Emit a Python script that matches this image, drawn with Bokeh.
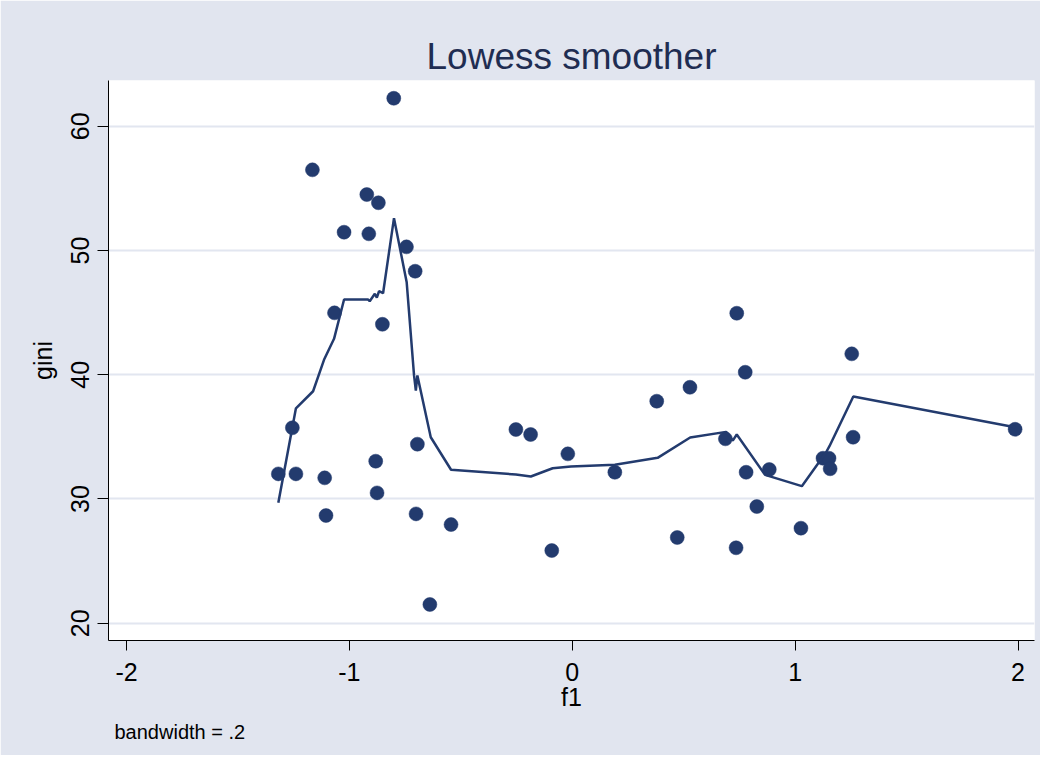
from bokeh.plotting import figure
from bokeh.models import FixedTicker, Title, ColumnDataSource
from bokeh.embed import file_html
from bokeh.resources import INLINE

# ---- data ----
f1 = [-0.801, -1.166, -0.922, -0.870, -1.024, -0.913, -0.744, -0.705, -1.067, -0.852,
      -1.256, -1.319, -1.240, -1.111, -0.882, -0.876, -1.105, -0.695, -0.701, -0.544,
      -0.639, -0.253, -0.187, -0.092, -0.020, 0.191, 0.379, 0.528, 0.471, 0.738,
      0.687, 0.776, 0.780, 0.828, 0.735, 0.884, 1.026, 1.125, 1.152, 1.157,
      1.254, 1.260, 1.987]
gini = [62.25, 56.49, 54.50, 53.84, 51.47, 51.34, 50.29, 48.33, 44.98, 44.06,
        35.73, 32.02, 32.02, 31.70, 33.04, 30.49, 28.67, 34.41, 28.80, 27.94,
        21.51, 35.59, 35.19, 25.85, 33.63, 32.15, 37.87, 38.99, 26.90, 44.95,
        34.84, 40.20, 32.15, 29.39, 26.07, 32.37, 27.65, 33.28, 33.28, 32.43,
        41.68, 34.97, 35.61]

lowess_f1 = [-1.319, -1.240, -1.163, -1.114, -1.069, -1.024, -0.916, -0.909, -0.886, -0.877,
             -0.867, -0.849, -0.800, -0.743, -0.710, -0.702, -0.695, -0.635, -0.544, -0.253,
             -0.186, -0.088, -0.006, 0.191, 0.383, 0.529, 0.690, 0.720, 0.738, 0.865,
             1.030, 1.139, 1.154, 1.261, 1.987]
lowess_gini = [29.69, 37.30, 38.67, 41.20, 42.89, 46.05, 46.05, 45.92, 46.51, 46.21,
               46.72, 46.56, 52.60, 47.44, 39.94, 38.73, 39.94, 34.97, 32.35, 31.97,
               31.81, 32.47, 32.61, 32.75, 33.31, 34.95, 35.40, 34.70, 35.19, 31.94,
               31.03, 33.76, 34.25, 38.25, 35.77]

x_ticks = [-2, -1, 0, 1, 2]
y_ticks = [20, 30, 40, 50, 60]

title_text = "Lowess smoother"
note_text = "bandwidth = .2"
x_label = "f1"
y_label = "gini"

# ---- styles ----
FONT = "Liberation Sans"
NAVY = "#233b6e"
BG = "#e1e5ef"
GRID = "#e2e6f0"

p = figure(width=1040, height=755,
           x_range=(-2.081, 2.074), y_range=(18.61, 63.68),
           output_backend="svg", toolbar_location=None,
           min_border_left=108, min_border_right=6,
           min_border_top=80, min_border_bottom=115)

p.background_fill_color = "white"
p.border_fill_color = BG
p.outline_line_color = None

p.title.text = title_text
p.title.text_font = FONT
p.title.text_font_size = "37px"
p.title.text_font_style = "normal"
p.title.text_color = "#1f2d52"
p.title.align = "center"
p.title.standoff = 8

p.add_layout(Title(text=note_text, align="left", offset=6, standoff=11,
                   text_font=FONT, text_font_size="20px",
                   text_font_style="normal", text_color="black"), "below")

p.xgrid.visible = False
p.ygrid.grid_line_color = GRID
p.ygrid.grid_line_width = 2

for ax in (p.xaxis, p.yaxis):
    ax.axis_line_color = "black"
    ax.axis_line_width = 1
    ax.major_tick_line_color = "black"
    ax.major_tick_out = 10
    ax.major_tick_in = 0
    ax.minor_tick_line_color = None
    ax.major_label_text_font = FONT
    ax.major_label_text_font_size = "25px"
    ax.major_label_text_color = "black"
    ax.axis_label_text_font = FONT
    ax.axis_label_text_font_size = "25px"
    ax.axis_label_text_font_style = "normal"
    ax.axis_label_text_color = "black"
    ax.major_label_standoff = 8

p.xaxis.ticker = FixedTicker(ticks=x_ticks)
p.yaxis.ticker = FixedTicker(ticks=y_ticks)
p.xaxis.major_label_overrides = {t: str(t) for t in x_ticks}
p.yaxis.major_label_overrides = {t: str(t) for t in y_ticks}
p.xaxis.major_label_standoff = 12
p.yaxis.major_tick_out = 11
p.yaxis.major_label_orientation = "vertical"
p.xaxis.axis_label = x_label
p.yaxis.axis_label = y_label
p.xaxis.axis_label_standoff = -1
p.yaxis.axis_label_standoff = 12

pts = ColumnDataSource(dict(x=f1, y=gini))
fit = ColumnDataSource(dict(x=lowess_f1, y=lowess_gini))

p.scatter("x", "y", source=pts, size=14, fill_color=NAVY, line_color=NAVY, line_width=0.5)
p.line("x", "y", source=fit, line_color=NAVY, line_width=2.5)

open("out.html", "w").write(file_html(p, INLINE))
